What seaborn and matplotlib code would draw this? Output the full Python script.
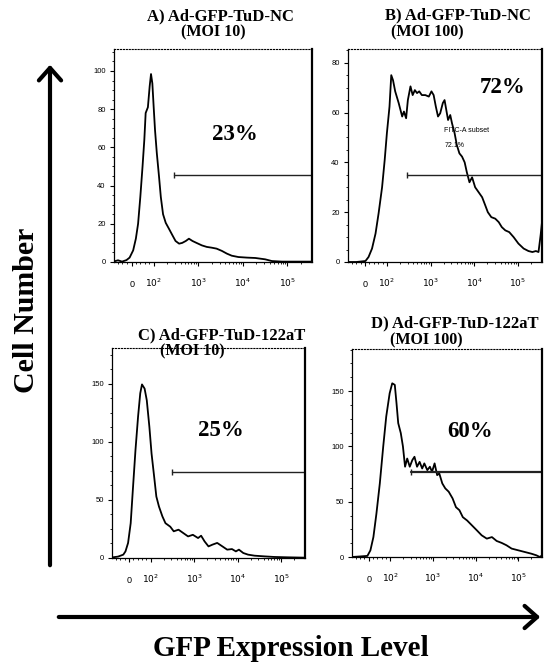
import numpy as np
import pandas as pd
import seaborn as sns
import matplotlib
matplotlib.use('Agg')
import matplotlib.pyplot as plt
from matplotlib.patches import FancyArrowPatch
from matplotlib.ticker import AutoMinorLocator

# GFP axis is kept in display decades (2 = 10^2, 3 = 10^3, ...), like the logicle axis of the cytometer
a_x = [1.11, 1.20, 1.29, 1.39, 1.46, 1.54, 1.60, 1.65, 1.70, 1.75,
       1.79, 1.82, 1.87, 1.91, 1.94, 1.97, 2.00, 2.03, 2.07, 2.12,
       2.16, 2.21, 2.27, 2.34, 2.42, 2.49, 2.57, 2.64, 2.72, 2.79,
       2.87, 2.96, 3.08, 3.19, 3.30, 3.41, 3.53, 3.64, 3.75, 3.90,
       4.09, 4.28, 4.50, 4.65, 4.88, 5.18, 5.53]
a_y = [0.3, 0.9, 0.2, 1.0, 2.3, 6.1, 12.2, 20, 34, 50,
       64, 78, 81, 92, 98.4, 93.5, 81, 69, 57, 44.6,
       34, 25, 20.5, 17.5, 14, 11, 9.6, 10, 11, 12.2,
       11, 10, 8.7, 7.9, 7.5, 7, 5.8, 4.4, 3.3, 2.6,
       2.3, 2.1, 1.4, 0.5, 0.2, 0.2, 0.2]

b_x = [1.11, 1.30, 1.51, 1.58, 1.66, 1.74, 1.81, 1.89, 1.95, 2.00,
       2.06, 2.10, 2.14, 2.19, 2.27, 2.35, 2.39, 2.44, 2.48, 2.54,
       2.59, 2.64, 2.69, 2.74, 2.80, 2.88, 2.96, 3.02, 3.07, 3.12,
       3.17, 3.22, 3.28, 3.32, 3.36, 3.40, 3.45, 3.49, 3.55, 3.60,
       3.66, 3.72, 3.78, 3.83, 3.89, 3.95, 4.02, 4.10, 4.18, 4.25,
       4.31, 4.39, 4.48, 4.56, 4.63, 4.71, 4.80, 4.90, 5.01, 5.13,
       5.24, 5.33, 5.41, 5.47, 5.52, 5.55]
b_y = [0, 0, 0.4, 2, 5.4, 11.4, 19.5, 30, 41, 51.7,
       62.4, 75, 73, 68.5, 63.8, 58.4, 60.4, 57.7, 65, 70.5,
       67, 69, 67.8, 68.5, 67, 67, 66.4, 68.5, 67, 62.4,
       58.4, 59.7, 63.8, 65, 61, 57, 59, 55.7, 51.7, 47,
       43.6, 42.3, 40, 36, 32, 34, 30, 28, 26, 22.8,
       20, 18, 17.4, 16, 14, 12.7, 12, 10, 7.4, 5.4,
       4.4, 4, 4.4, 4, 11, 16]

c_x = [1.11, 1.25, 1.37, 1.42, 1.48, 1.54, 1.59, 1.65, 1.71, 1.76,
       1.80, 1.86, 1.91, 1.97, 2.02, 2.08, 2.13, 2.19, 2.27, 2.34,
       2.45, 2.53, 2.64, 2.75, 2.86, 2.97, 3.09, 3.16, 3.24, 3.33,
       3.42, 3.53, 3.65, 3.76, 3.87, 3.96, 4.03, 4.13, 4.24, 4.39,
       4.62, 4.84, 5.14, 5.55]
c_y = [0.5, 1.2, 2.9, 5.7, 13, 30, 59, 93, 122, 142,
       149.6, 146, 136, 113, 90, 70, 53, 44.4, 35.8, 30,
       27, 23, 24.4, 21.5, 18.6, 20, 17.2, 19.2, 14.3, 10,
       11.5, 13, 10, 7.2, 7.7, 5.7, 7.2, 4.3, 2.9, 2,
       1.4, 0.9, 0.6, 0.3]

d_x = [1.11, 1.30, 1.47, 1.54, 1.61, 1.68, 1.76, 1.84, 1.91, 1.99,
       2.05, 2.11, 2.15, 2.19, 2.25, 2.30, 2.35, 2.40, 2.46, 2.52,
       2.57, 2.63, 2.69, 2.75, 2.80, 2.87, 2.93, 2.98, 3.04, 3.10,
       3.15, 3.22, 3.29, 3.37, 3.46, 3.54, 3.62, 3.70, 3.80, 3.91,
       4.03, 4.14, 4.26, 4.38, 4.49, 4.61, 4.72, 4.84, 5.00, 5.15,
       5.30, 5.42, 5.50, 5.55]
d_y = [0, 0.5, 1, 6, 18, 39, 66.5, 100, 127, 148,
       157, 155.6, 139, 121, 112, 100, 81.6, 89, 81.6, 87.6,
       90.6, 81.6, 86, 80, 84.6, 78.5, 81.6, 77, 84.6, 74,
       75.5, 66.5, 62, 59, 53, 45, 42.3, 36, 33, 28.7,
       24, 19.6, 16.6, 18, 14.5, 12.7, 10.6, 7.6, 6, 4.5,
       3, 1.5, 0, 1.5]

titles = ['A) Ad-GFP-TuD-NC', 'B) Ad-GFP-TuD-NC',
          'C) Ad-GFP-TuD-122aT', 'D) Ad-GFP-TuD-122aT']
moi_labels = ['(MOI 10)', '(MOI 100)', '(MOI 10)', '(MOI 100)']
percents = ['23%', '72%', '25%', '60%']
gate_start = [2.45, 2.46, 2.48, 2.48]
gate_level = [45.5, 35, 74.5, 77]
y_ticks = [[0, 20, 40, 60, 80, 100], [0, 20, 40, 60, 80],
           [0, 50, 100, 150], [0, 50, 100, 150]]
y_max = [111.5, 85.5, 181, 188]
x_tick_pos = [1.51, 2, 3, 4, 5]
x_tick_labels = ['0', '$10^2$', '$10^3$', '$10^4$', '$10^5$']

sns.set_style('ticks')
plt.rcParams['font.family'] = ['Liberation Sans', 'DejaVu Sans']
plt.rcParams['mathtext.fontset'] = 'dejavusans'
for k in ['text.color', 'axes.labelcolor', 'xtick.color', 'ytick.color', 'axes.edgecolor']:
    plt.rcParams[k] = 'black'

W, H = 544, 665
fig = plt.figure(figsize=(W / 100, H / 100), dpi=100)


def fp(x, y):
    return x / W, 1 - y / H


serif = 'Liberation Serif'
curves = [(a_x, a_y), (b_x, b_y), (c_x, c_y), (d_x, d_y)]
boxes = [(114, 49, 312, 262), (348, 49, 542, 262),
         (112, 348, 305, 558), (352, 349, 542, 557)]
pct_pos = [(3.83, 67), (4.64, 70), (3.61, 110), (3.87, 113)]
title_pos = [(220, 16), (458, 15), (222, 335), (455, 323)]
moi_pos = [(213, 32), (427, 32), (192, 351), (426, 340)]
minor_x = [1.2, 1.3, 1.4, 1.6, 1.7, 1.8, 1.9] + \
    [n + np.log10(k) for n in (2, 3, 4) for k in range(2, 10)] + [5.3]

for i, (xs, ys) in enumerate(curves):
    l, t, r, b = boxes[i]
    ax = fig.add_axes([l / W, 1 - b / H, (r - l) / W, (b - t) / H])
    df = pd.DataFrame({'gfp': xs, 'count': ys})
    sns.lineplot(data=df, x='gfp', y='count', ax=ax, color='black',
                 lw=1.3, sort=False, estimator=None)
    ax.set_xlim(1.11, 5.55)
    ax.set_ylim(0, y_max[i])
    ax.set(xlabel='', ylabel='')
    ax.set_xticks(x_tick_pos, x_tick_labels)
    ax.set_xticks(minor_x, minor=True)
    ax.set_yticks(y_ticks[i])
    ax.yaxis.set_minor_locator(AutoMinorLocator(4))
    ax.tick_params(axis='x', labelsize=6.5, length=3, width=0.8, pad=15)
    ax.tick_params(axis='y', labelsize=5.5, length=3, width=0.8, pad=3)
    ax.tick_params(which='minor', length=1.6, width=0.6)
    for lab in ax.get_xticklabels():
        lab.set_va('baseline')
    for s in ['left', 'bottom']:
        ax.spines[s].set_linewidth(0.9)
    ax.spines['top'].set_linewidth(0.8)
    ax.spines['top'].set_linestyle(':')
    ax.spines['right'].set_linewidth(1.6)

    gw = 1.6 if i == 3 else 1.0
    ax.plot([gate_start[i], 5.55], [gate_level[i]] * 2, color='#222222', lw=gw)
    ax.plot([gate_start[i]], [gate_level[i]], marker='|', ms=5,
            mew=1, color='#222222')

    ax.text(*pct_pos[i], percents[i], family=serif, fontweight='bold',
            fontsize=16.5, ha='center', va='center')

    fig.text(*fp(*title_pos[i]), titles[i], family=serif, fontweight='bold',
             fontsize=12, ha='center', va='center')
    fig.text(*fp(*moi_pos[i]), moi_labels[i], family=serif, fontweight='bold',
             fontsize=11.5, ha='center', va='center')

    if i == 1:
        ax.text(3.30, 52.7, 'FITC-A subset', fontsize=5, va='center')
        ax.text(3.33, 46.7, '72.1%', fontsize=5, va='center')

# big axis arrows and labels
fig.add_artist(FancyArrowPatch(fp(50, 568), fp(50, 62), transform=fig.transFigure,
                               arrowstyle='->,head_length=0.45,head_width=0.4',
                               mutation_scale=20, lw=3, color='black'))
fig.add_artist(FancyArrowPatch(fp(56, 617), fp(543, 617), transform=fig.transFigure,
                               arrowstyle='->,head_length=0.45,head_width=0.4',
                               mutation_scale=20, lw=3, color='black'))
fig.text(*fp(27, 310), 'Cell Number', family=serif, fontweight='bold',
         fontsize=21.5, rotation=90, ha='center', va='center')
fig.text(*fp(291, 648), 'GFP Expression Level', family=serif, fontweight='bold',
         fontsize=21, ha='center', va='center')

fig.savefig('out.png', dpi=100)
